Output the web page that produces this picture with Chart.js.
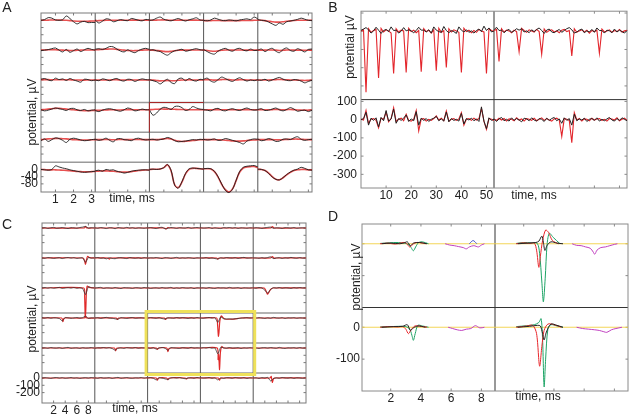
<!DOCTYPE html>
<html>
<head>
<meta charset="utf-8">
<script src="https://cdn.jsdelivr.net/npm/chart.js@4.4.1/dist/chart.umd.min.js"></script>
<style>
  html, body { margin: 0; padding: 0; background: #fff; }
  #fig { position: relative; width: 632px; height: 417px; overflow: hidden; }
  #fig canvas { position: absolute; }
</style>
</head>
<body>
<div id="fig">
  <canvas id="chartA" width="320" height="210" style="left:0;top:0"></canvas>
  <canvas id="chartB" width="312" height="210" style="left:320px;top:0"></canvas>
  <canvas id="chartC" width="320" height="207" style="left:0;top:210px"></canvas>
  <canvas id="chartD" width="312" height="207" style="left:320px;top:210px"></canvas>
</div>
<script>
// ---- panel A: 6 x 5 electrode grid, 3 ms windows ----
const tA = [0.2, 0.4, 0.6, 0.8, 1.0, 1.2, 1.4, 1.6, 1.8, 2.0, 2.2, 2.4, 2.6, 2.8, 3.0, 3.2];
const aXTicks = [1, 2, 3];
const aYTicks = [0, -40, -80];

// aBlack[row][col] recorded traces, uV
const aBlack = [
  [[0,4,15,12,2,0,3,24,10,-8,-20,-10,-6,-13,-12,-12],
   [2,-15,-5,8,5,-8,-3,4,0,-2,10,6,0,-3,5,2],
   [0,2,12,18,6,0,-3,4,10,2,-4,3,8,14,2,0],
   [0,-3,2,12,6,0,-2,2,0,-3,2,5,8,4,18,8],
   [4,0,-2,-10,-20,-28,-15,-22,-8,-4,0,5,12,6,0,-2]],
  [[-3,0,3,8,12,0,-10,4,-12,-3,6,-8,2,10,4,0],
   [5,8,4,10,20,18,6,-5,-10,2,-8,-14,-2,6,10,4],
   [0,2,-4,-8,-20,-28,-14,-4,0,5,-6,-2,4,8,2,0],
   [4,-8,-18,-22,-6,4,10,0,-6,6,10,0,-4,6,-2,0],
   [0,6,-8,4,10,-6,-14,4,12,-2,-6,8,0,-10,4,6]],
  [[4,8,0,-4,10,2,6,-3,8,0,-6,-12,4,2,-4,0],
   [0,-4,6,2,-4,4,8,-2,-6,4,2,-8,0,6,2,0],
   [2,-4,-10,-22,-8,4,-14,-20,6,10,-4,8,-2,-6,4,0],
   [4,10,-6,-12,2,16,8,-2,-8,4,12,2,-6,0,-4,2],
   [0,-2,4,-6,0,8,14,4,-2,-4,2,0,-6,-16,-8,-2]],
  [[0,-6,-2,4,10,6,2,-4,6,8,0,-4,2,-6,-2,0],
   [-4,-10,-2,4,6,2,-4,-8,0,10,4,-6,-2,4,0,0],
   [0,-30,-18,4,14,10,2,18,20,12,-4,2,18,10,4,2],
   [0,-2,-6,4,8,-2,-6,2,6,0,-4,4,10,2,-2,0],
   [2,6,-4,-2,4,10,0,-6,2,12,4,-8,-4,-2,-10,-2]],
  [[-6,4,-10,0,10,6,-4,-16,2,8,4,-2,-6,-4,0,2],
   [2,-4,0,8,-4,-12,4,6,0,-2,-6,4,8,2,-2,0],
   [0,2,-2,0,4,12,6,-6,-12,-10,-8,-4,0,-2,2,0],
   [2,-2,0,4,-4,-2,6,2,-4,-10,-16,-24,-8,0,4,2],
   [4,-6,-2,6,0,-10,-8,2,4,0,10,16,2,-4,0,2]],
  [[0,-2,-4,0,20,14,8,4,-2,-6,-10,-14,-16,-14,-12,-10],
   [-8,-4,-10,0,-4,-2,-10,-14,-20,-16,-10,-6,-4,-2,-2,-4],
   [0,2,0,3,10,28,-5,-88,-104,-68,-22,4,8,6,4,2],
   [4,6,4,-10,-40,-80,-115,-128,-110,-60,-10,12,18,20,22,14],
   [2,0,-6,-22,-42,-55,-58,-45,-28,-14,-4,2,12,6,-2,-4]]
];

// aRed[row][col] fitted templates, uV
const aRed = [
  [[0,0,1,2,2,2,1,0,-2,-4,-5,-5,-5,-5,-4,-4],
   [-2,-2,-1,0,0,0,0,0,0,0,1,1,1,0,0,0],
   [0,0,1,2,2,1,0,0,1,1,0,0,1,1,0,0],
   [-2,-2,-2,-1,-1,-2,-2,-2,-2,-2,-2,-1,-1,-1,0,0],
   [0,0,-2,-5,-8,-10,-10,-8,-5,-3,-1,0,0,0,0,0]],
  [[0,1,2,2,2,1,0,-1,-2,-2,-1,0,1,1,1,0],
   [2,3,4,5,6,6,4,2,0,-2,-3,-3,-2,0,1,2],
   [0,0,-2,-4,-7,-8,-6,-3,-1,0,0,0,1,1,1,0],
   [0,-2,-5,-6,-4,-1,1,1,0,1,1,0,0,0,0,0],
   [0,0,0,1,1,0,-2,-1,1,1,0,0,0,-1,0,0]],
  [[2,2,2,1,1,1,1,1,1,0,0,-1,-1,0,0,0],
   [0,0,0,0,0,1,1,0,0,0,0,0,0,0,0,0],
   [0,-1,-3,-5,-4,-3,-4,-4,-2,0,0,1,0,0,0,0],
   [1,2,1,-1,0,2,3,2,0,0,1,1,0,0,0,0],
   [0,0,0,0,1,2,3,2,1,0,0,-1,-2,-3,-2,-1]],
  [[0,2,4,6,8,8,6,4,2,0,-2,-4,-5,-5,-4,-3],
   [-3,-3,-2,-1,0,0,-1,-1,0,1,1,0,0,0,0,0],
   [0,2,3,4,4,4,4,3,2,2,1,0,0,0,0,0],
   [0,0,0,1,1,0,0,0,1,0,0,1,1,0,0,0],
   [0,1,0,0,1,2,1,0,1,2,1,-1,-2,-2,-2,-1]],
  [[0,2,4,5,6,6,5,4,2,0,-1,-2,-2,-2,-1,0],
   [0,0,0,1,0,-1,0,1,0,0,0,1,1,0,0,0],
   [0,0,0,2,4,6,3,-3,-8,-10,-9,-7,-5,-3,-1,0],
   [0,0,0,0,-1,-2,-3,-5,-7,-8,-8,-7,-5,-3,-2,-1],
   [0,0,0,0,0,-1,-1,0,1,2,3,3,2,1,0,0]],
  [[0,-1,-2,-2,-2,-3,-4,-5,-7,-9,-11,-12,-13,-13,-12,-11],
   [-10,-9,-8,-8,-9,-10,-12,-14,-15,-14,-12,-9,-6,-4,-3,-3],
   [0,1,1,3,10,25,-8,-85,-100,-70,-25,0,6,6,4,2],
   [4,4,2,-12,-42,-82,-112,-125,-108,-62,-14,8,14,16,16,10],
   [0,0,-6,-20,-40,-54,-57,-46,-30,-16,-6,-2,0,0,-2,-2]]
];

// ---- panel B: 2 x 2, 53 ms windows ----
const tB = [0,1,2,3,4,5,6,7,8,9,10,11,12,13,14,15,16,17,18,19,20,21,22,23,24,25,26,
  27,28,29,30,31,32,33,34,35,36,37,38,39,40,41,42,43,44,45,46,47,48,49,50,51,52,53];
const bXTicks = [10, 20, 30, 40, 50];
const bYTicks = [100, 0, -100, -200, -300];

const bBlackUL = [5,12,20,8,-10,2,22,6,-12,4, 10,-2,24,4,6,-10,0,20,2,8,
  2,-8,4,22,6,6,-4,8,-10,24, 6,-2,-6,26,4,-8,4,-2,-12,24, 6,-4,8,-6,2,-10,4,12,-2,28, 4,18,-4,2];
const bRedUL = [0,8,-335,14,-6,4,10,-257,16,-4, 8,2,-10,-232,14,-4,6,2,-226,16,
  -2,6,-8,4,-222,14,-2,6,-10,8, -217,16,-6,4,-199,14,-4,8,2,-6, -226,16,-2,6,-8,4,-6,10,2,-4, -232,14,4,-2];
const bBlackUR = [8,22,4,6,-8,4,10,-6,2,14, 6,14,-4,2,-8,8,-2,10,18,4,
  -12,6,12,-4,-8,2,10,-6,4,14, 20,8,-10,-4,6,12,-8,2,-4,10, -6,18,4,4,-10,6,2,-8,12,-4, 6,-2,-10,4];
const bRedUR = [4,10,-166,14,-4,6,2,-8,6,-2, -112,16,4,-6,8,2,-4,10,-2,-126,
  12,-6,4,8,-4,2,-8,6,10,-2, 4,-135,14,-6,2,8,-4,6,-10,4, -2,6,-121,12,-4,2,8,-6,4,-2, 10,-4,2,6];
const bBlackLL = [0,6,40,-30,8,-4,10,-40,12,-6, 50,-8,4,58,-20,6,-4,8,26,-10,
  4,-6,44,-30,8,-4,6,-10,2,8, 18,-6,4,-8,42,-12,6,-4,2,-8, 34,-24,6,-2,8,-6,4,-10,70,-8, -50,10,-4,2];
const bRedLL = [4,-2,50,-20,2,6,-4,-45,8,2, 40,-12,6,66,-10,2,8,-6,30,-4,
  -8,2,50,-62,4,6,-8,2,-4,6, 20,-2,8,-6,47,-8,2,6,-4,4, 38,-30,2,6,-4,8,-2,6,60,-10, -54,6,2,-4];
const bBlackLR = [6,-10,4,12,-6,2,-8,10,-4,6, -2,-12,8,4,-6,10,-2,-8,6,2,
  -10,8,-4,6,12,-6,4,-20,10,-4, 6,-30,30,-6,4,-2,8,-10,2,6, -4,10,-8,2,-6,4,12,-2,-8,6, -4,10,2,-6];
const bRedLR = [2,-4,8,-2,6,-8,4,2,-6,10, -2,4,-8,6,2,-4,8,-6,2,10,
  -4,6,-2,-8,4,8,-2,-92,6,2, -4,-126,38,-2,6,-8,4,2,-6,8, -2,4,6,-4,2,-8,6,4,-2,10, -6,2,8,-4];

// ---- panel C: 6 x 5 grid, 9 ms windows ----
const tC = [0,0.5,1,1.5,2,2.5,3,3.5,4,4.5,5,5.5,6,6.5,7,7.5,8,8.5,9];
const cXTicks = [2, 4, 6, 8];
const cYTicks = [0, -100, -200];

// cBlack[row][col] recorded traces on tC
const cBlack = [
  [[0,4,-6,2,8,-4,0,6,-2,-8,4,2,-4,6,12,20,-2,4,0],
   [2,-4,6,0,-8,4,2,-10,6,0,-4,8,-2,4,-6,2,0,-4,2],
   [0,6,-2,-8,4,10,-12,-4,6,2,-6,4,0,-2,8,-4,2,6,0],
   [4,-2,0,6,-6,2,-4,-8,4,0,6,-2,4,-6,2,0,-4,2,0],
   [-2,4,0,-6,2,8,12,-4,2,0,-6,4,2,-2,6,-4,0,2,-2]],
  [[0,-4,6,2,-6,0,4,-8,2,6,-2,4,-6,0,2,-60,6,-2,0],
   [2,6,-4,0,-12,4,-6,-10,2,4,-2,-8,6,0,-4,2,-6,4,0],
   [-4,2,0,6,-2,-8,4,2,-6,0,8,-4,2,-2,4,0,-6,2,0],
   [0,-2,4,-6,0,-8,-14,2,-4,6,0,-2,4,-6,2,8,-2,0,4],
   [2,0,-4,4,-2,6,16,-8,0,4,-6,2,-2,8,0,-4,6,-2,0]],
  [[0,6,-2,4,-4,2,8,-6,0,4,-2,6,-4,2,-8,-90,18,4,0],
   [-2,4,8,-6,2,0,-4,6,-2,-8,4,2,0,-6,4,2,-4,6,0],
   [4,-6,0,2,-4,6,-2,0,8,-6,2,-4,6,0,-2,4,-8,2,0],
   [0,2,-4,6,-2,-6,4,0,2,-4,8,-2,0,4,-6,2,0,-2,4],
   [2,-4,6,0,-30,-70,-20,4,-2,6,-4,2,0,-6,4,-2,6,0,2]],
  [[4,-2,6,-4,2,0,-8,-40,6,2,-4,0,6,-2,4,24,-6,2,0],
   [0,4,-6,2,8,-2,-4,-12,-16,4,0,-6,2,6,-4,0,2,-2,4],
   [-2,6,0,-4,4,-8,-14,2,0,-4,6,-2,4,0,-6,2,-4,6,0],
   [0,-4,2,6,-2,4,-60,14,-10,-14,-12,-16,-10,-8,-2,0,4,-2,2],
   [6,-2,4,0,-6,2,-4,8,0,-2,4,-6,2,0,4,-4,2,0,-2]],
  [[0,2,-4,6,0,-2,4,-6,2,8,-4,0,2,-6,4,-2,0,6,-2],
   [-4,2,0,6,-2,4,-8,-30,-4,2,-6,4,0,-2,6,-4,2,0,4],
   [2,-6,4,-16,0,6,-4,-30,4,2,-2,-6,4,0,-4,8,-2,2,0],
   [0,4,-2,6,-4,0,-80,10,2,-4,6,-2,0,4,-6,2,-2,4,0],
   [4,0,-6,2,4,-2,6,0,-4,8,-2,-6,2,0,4,-4,6,-2,0]],
  [[-2,4,0,-6,2,6,-2,4,-4,0,6,-2,2,-6,0,4,-2,6,0],
   [2,-4,6,-2,0,4,-6,2,8,-4,0,6,-2,-4,2,0,6,-2,4],
   [0,6,-4,-26,4,-2,-12,-20,0,4,-2,6,-4,-10,0,2,-4,6,0],
   [4,-2,0,6,-4,2,-26,0,-6,4,2,-4,6,0,-2,4,-6,2,0],
   [0,2,-6,4,0,8,-40,-8,2,-4,6,0,-2,4,-6,2,0,-4,2]]
];

// cRed[row][col] fitted templates as [ms, uV] pairs
const flatC = [[0, 0], [9.1, 0]];
const cRed = [
  [[[0,0],[7.3,0],[7.5,22],[7.7,0],[9.1,0]], flatC,
   [[0,0],[2.9,0],[3.2,-12],[3.5,6],[3.8,0],[9.1,0]], flatC,
   [[0,0],[3.0,0],[3.3,18],[3.6,0],[9.1,0]]],
  [[[0,0],[7.1,0],[7.35,-40],[7.5,-86],[7.65,-30],[7.85,22],[8.2,4],[9.1,0]],
   [[0,0],[2.3,0],[2.5,-16],[2.7,0],[9.1,0]], flatC,
   [[0,0],[2.8,0],[3.0,-16],[3.2,0],[9.1,0]],
   [[0,0],[3.0,0],[3.3,20],[3.6,-6],[3.9,0],[9.1,0]]],
  [[[0,0],[7.2,0],[7.35,-120],[7.45,-405],[7.55,-300],[7.65,-60],[7.8,25],[8.1,8],[9.1,0]],
   flatC, flatC, flatC,
   [[0,0],[1.9,0],[2.2,-40],[2.45,-86],[2.7,-60],[3.0,-20],[3.4,0],[9.1,0]]],
  [[[0,0],[3.4,0],[3.6,-50],[3.75,-10],[3.9,0],[7.3,0],[7.5,28],[7.7,0],[9.1,0]],
   [[0,0],[3.7,0],[3.9,-20],[4.1,0],[9.1,0]],
   [[0,0],[2.9,0],[3.1,-20],[3.3,0],[9.1,0]],
   [[0,0],[2.8,0],[2.95,-80],[3.1,-250],[3.2,-200],[3.35,-40],[3.6,27],[3.9,5],[4.2,-14],[5.5,-16],[6.5,-6],[7.0,0],[9.1,0]],
   flatC],
  [flatC,
   [[0,0],[3.4,0],[3.6,-40],[3.8,0],[9.1,0]],
   [[0,0],[1.5,0],[1.7,-20],[1.9,0],[3.3,0],[3.5,-50],[3.7,-5],[3.9,0],[9.1,0]],
   [[0,0],[2.9,0],[3.05,-160],[3.15,-90],[3.3,-295],[3.45,-60],[3.7,20],[4.0,0],[9.1,0]],
   flatC],
  [flatC, flatC,
   [[0,0],[1.5,0],[1.7,-30],[1.9,0],[3.3,0],[3.5,-25],[3.7,0],[6.5,0],[6.7,-12],[6.9,0],[9.1,0]],
   [[0,0],[3.1,0],[3.3,-30],[3.5,0],[9.1,0]],
   [[0,0],[2.9,0],[3.1,22],[3.3,-60],[3.5,-10],[3.7,0],[9.1,0]]]
];

// ---- panel D: 2 x 2, unit templates overlaid, [ms, uV] pairs; cells UL, UR, LL, LR ----
const dXTicks = [2, 4, 6, 8];
const dYTicks = [0, -100];
const dYellow = [[0.1, 0], [8.9, 0]];
const dBlack = [
  [[1.4,0],[2.0,2],[2.6,0],[2.9,3],[3.1,6],[3.3,-6],[3.5,2],[3.9,4],[4.4,0]],
  [[1.6,0],[2.3,2],[2.8,4],[3.0,8],[3.2,24],[3.3,5],[3.4,-21],[3.55,-5],[3.8,6],[4.2,2],[4.6,0]],
  [[1.4,0],[2.2,2],[2.8,3],[3.1,8],[3.3,-10],[3.5,-2],[3.8,4],[4.3,0]],
  [[1.6,0],[2.4,3],[2.9,6],[3.1,4],[3.25,-20],[3.35,-40],[3.5,-15],[3.8,10],[4.2,6],[4.6,0]]
];
const dRed = [
  [[1.3,0],[1.8,2],[2.3,-1],[2.7,3],[2.95,4],[3.1,-2],[3.25,-10],[3.4,-5],[3.6,3],[3.9,4],[4.3,0]],
  [[1.5,0],[2.0,3],[2.4,1],[2.7,2],[2.85,-20],[3.0,-74],[3.1,-40],[3.25,10],[3.45,43],[3.65,35],[3.9,10],[4.3,0]],
  [[1.3,0],[1.9,2],[2.5,1],[2.8,2],[3.0,-6],[3.17,-20],[3.35,-8],[3.6,4],[4.0,3],[4.4,0]],
  [[1.5,0],[2.2,4],[2.6,6],[2.85,-20],[3.05,-122],[3.2,-60],[3.35,-10],[3.6,10],[4.0,8],[4.5,0]]
];
const dGreen = [
  [[1.3,1],[1.9,3],[2.5,4],[2.9,2],[3.2,-3],[3.35,-12],[3.5,-22],[3.65,-10],[3.85,4],[4.1,6],[4.5,0]],
  [[1.5,1],[2.0,4],[2.5,3],[2.9,1],[3.05,-30],[3.2,-120],[3.3,-182],[3.42,-110],[3.55,0],[3.7,33],[3.95,20],[4.4,0]],
  [[1.3,1],[2.0,2],[2.6,3],[3.0,2],[3.25,-5],[3.4,-25],[3.5,-41],[3.62,-20],[3.8,6],[4.1,4],[4.5,0]],
  [[1.5,2],[2.2,5],[2.7,8],[3.0,15],[3.15,27],[3.25,-40],[3.35,-187],[3.45,-100],[3.6,-5],[3.8,8],[4.2,4],[4.6,0]]
];
const dMagenta = [
  [[5.6,0],[5.9,-4],[6.2,-6],[6.5,-9],[6.8,-12],[7.0,-16],[7.2,-10],[7.5,-6],[7.8,-10],[8.0,-4],[8.2,0]],
  [[5.2,0],[5.5,-5],[5.8,-6],[6.1,-10],[6.4,-14],[6.6,-26],[6.7,-33],[6.85,-20],[7.1,-12],[7.4,-10],[7.7,-6],[8.0,-2],[8.2,0]],
  [[5.8,0],[6.1,-4],[6.4,-8],[6.7,-10],[7.0,-6],[7.3,-4],[7.6,5],[7.9,-2],[8.2,0]],
  [[5.5,0],[5.9,-4],[6.3,-6],[6.7,-8],[7.0,-10],[7.3,-14],[7.5,-16],[7.8,-8],[8.1,-4],[8.5,0]]
];
const dBlue = [[[7.2,0],[7.45,10],[7.7,0]], [], [], []];

Chart.defaults.font.family = '"Liberation Sans", Arial, sans-serif';
Chart.defaults.font.size = 12;
Chart.defaults.color = '#222';

// frame, dividers, inner ticks, highlight boxes and free text, placed from the chart's own scales
const gridFrame = {
  id: 'gridFrame',
  beforeDatasetsDraw(chart, args, o) {
    const { ctx, chartArea: a } = chart;
    const sc = Object.values(chart.scales);
    const xs = sc.filter(s => s.axis === 'x');
    const ys = sc.filter(s => s.axis === 'y');
    ctx.save();
    ctx.lineWidth = o.hWidth || 1;
    ctx.strokeStyle = o.hColor;
    ys.filter(s => s.top > a.top + 2).forEach(s => {
      ctx.beginPath(); ctx.moveTo(a.left, s.top); ctx.lineTo(a.right, s.top); ctx.stroke();
    });
    ctx.lineWidth = o.vWidth || 1;
    ctx.strokeStyle = o.vColor;
    xs.filter(s => s.left > a.left + 2).forEach(s => {
      ctx.beginPath(); ctx.moveTo(s.left, a.top); ctx.lineTo(s.left, a.bottom); ctx.stroke();
    });
    // small inward ticks on the outer frame
    ctx.lineWidth = 1;
    ctx.strokeStyle = o.frameColor;
    ctx.beginPath();
    xs.forEach(s => (o.tickX || []).forEach(v => {
      const px = s.getPixelForValue(v);
      ctx.moveTo(px, a.top); ctx.lineTo(px, a.top + 2.5);
      ctx.moveTo(px, a.bottom); ctx.lineTo(px, a.bottom - 2.5);
    }));
    ys.forEach(s => (o.tickY || []).forEach(v => {
      const py = s.getPixelForValue(v);
      ctx.moveTo(a.left, py); ctx.lineTo(a.left + 2.5, py);
      ctx.moveTo(a.right, py); ctx.lineTo(a.right - 2.5, py);
    }));
    ctx.stroke();
    ctx.strokeRect(a.left, a.top, a.width, a.height);
    ctx.restore();
  },
  afterDatasetsDraw(chart, args, o) {
    const { ctx, scales } = chart;
    ctx.save();
    (o.boxes || []).forEach(b => {
      const x0 = scales['x' + b.c0].left - b.out, x1 = scales['x' + b.c1].right + b.out;
      const y0 = scales['y' + b.r0].top - b.out, y1 = scales['y' + b.r1].bottom + b.out;
      ctx.lineWidth = b.width;
      ctx.strokeStyle = b.color;
      ctx.beginPath();
      if (b.topLeftOnly) {
        ctx.moveTo(x1, y0); ctx.lineTo(x0, y0); ctx.lineTo(x0, y1);
      } else {
        ctx.rect(x0, y0, x1 - x0, y1 - y0);
      }
      ctx.stroke();
    });
    (o.texts || []).forEach(t => {
      ctx.save();
      ctx.font = (t.size || 12) + 'px "Liberation Sans", Arial, sans-serif';
      ctx.fillStyle = '#222';
      ctx.textAlign = 'center';
      ctx.textBaseline = 'middle';
      ctx.translate(t.x, t.y);
      if (t.rot) ctx.rotate(-Math.PI / 2);
      ctx.fillText(t.text, 0, 0);
      ctx.restore();
    });
    ctx.restore();
  }
};

// one x axis per column, one y axis per row, stacked inside one chart area
function gridScales(g) {
  const scales = {};
  for (let c = 0; c < g.cols; c++) {
    const lab = c === 0;
    scales['x' + c] = {
      type: 'linear', position: 'bottom', stack: 'cols', stackWeight: 1,
      min: g.xMin, max: g.xMax,
      grid: { display: false, drawTicks: false }, border: { display: false },
      ticks: { display: lab, padding: g.xPad, autoSkip: false, maxRotation: 0 },
      afterBuildTicks: s => { if (lab) s.ticks = g.xTicks.map(v => ({ value: v })); },
      afterFit: s => { s.height = 14; }
    };
  }
  for (let r = 0; r < g.rows; r++) {
    const lab = r === g.rows - 1;
    scales['y' + r] = {
      type: 'linear', position: 'left', stack: 'rows', stackWeight: 1, weight: g.rows - r,
      min: g.yMin, max: g.yMax,
      grid: { display: false, drawTicks: false }, border: { display: false },
      ticks: { display: lab, padding: g.yPad, autoSkip: false },
      afterBuildTicks: s => { if (lab) s.ticks = g.yTicks.map(v => ({ value: v })); },
      afterFit: s => { s.width = 34; }
    };
  }
  return scales;
}

function onGrid(times, vals) {
  return vals.map((v, i) => ({ x: times[i], y: v }));
}
function fromPairs(p) {
  return p.map(q => ({ x: q[0], y: q[1] }));
}
function trace(data, c, r, color, width, tension) {
  return {
    data, xAxisID: 'x' + c, yAxisID: 'y' + r,
    borderColor: color, borderWidth: width, pointRadius: 0,
    tension: tension, fill: false, clip: false
  };
}

function makeChart(id, g, datasets, frame) {
  frame.tickX = g.xTicks;
  frame.tickY = g.yTicks;
  return new Chart(document.getElementById(id), {
    type: 'line',
    data: { datasets },
    options: {
      responsive: false, animation: false, events: [],
      layout: { padding: g.pad },
      scales: gridScales(g),
      plugins: { legend: { display: false }, tooltip: { enabled: false }, gridFrame: frame }
    },
    plugins: [gridFrame]
  });
}

// ---- build A ----
const dsA = [];
aBlack.forEach((row, r) => row.forEach((v, c) => dsA.push(trace(onGrid(tA, v), c, r, '#1c1c1c', 0.9, 0.3))));
aRed.forEach((row, r) => row.forEach((v, c) => dsA.push(trace(onGrid(tA, v), c, r, 'rgba(226,38,38,0.8)', 1.6, 0.4))));
makeChart('chartA', {
  cols: 5, rows: 6, xMin: 0.2, xMax: 3.2, yMin: -125, yMax: 40.5,
  xTicks: aXTicks, yTicks: aYTicks, xPad: 0, yPad: 3,
  pad: { left: 7, top: 13, right: 8, bottom: 4 }
}, dsA, {
  frameColor: '#7a7a7a', hColor: '#9a9a9a', hWidth: 1.5, vColor: '#555', vWidth: 1,
  boxes: [{ c0: 2, c1: 2, r0: 3, r1: 3, out: 0, width: 1, color: '#a82828', topLeftOnly: true }],
  texts: [
    { text: 'A', x: 7, y: 8, size: 14 },
    { text: 'potential, \u00b5V', x: 33, y: 112, rot: true },
    { text: 'time, ms', x: 132, y: 199 }
  ]
});

// ---- build B ----
const bBlack = [[bBlackUL, bBlackUR], [bBlackLL, bBlackLR]];
const bRed = [[bRedUL, bRedUR], [bRedLL, bRedLR]];
const dsB = [];
bBlack.forEach((row, r) => row.forEach((v, c) => dsB.push(trace(onGrid(tB, v), c, r, '#222', 1, 0))));
bRed.forEach((row, r) => row.forEach((v, c) => dsB.push(trace(onGrid(tB, v), c, r, '#e3262c', 1.1, 0))));
makeChart('chartB', {
  cols: 2, rows: 2, xMin: 0, xMax: 53, yMin: -375, yMax: 110,
  xTicks: bXTicks, yTicks: bYTicks, xPad: 0, yPad: 4,
  pad: { left: 7, top: 10, right: 5, bottom: 8 }
}, dsB, {
  frameColor: '#8a8a8a', hColor: '#333', vColor: '#333',
  texts: [
    { text: 'B', x: 13, y: 8, size: 14 },
    { text: 'potential \u00b5V', x: 31, y: 47, rot: true },
    { text: 'time, ms', x: 214, y: 196 }
  ]
});

// ---- build C ----
const dsC = [];
cBlack.forEach((row, r) => row.forEach((v, c) => dsC.push(trace(onGrid(tC, v), c, r, '#333', 0.8, 0.2))));
cRed.forEach((row, r) => row.forEach((p, c) => dsC.push(trace(fromPairs(p), c, r, '#e02a2a', 1.2, 0.2))));
makeChart('chartC', {
  cols: 5, rows: 6, xMin: 0, xMax: 9.1, yMin: -342, yMax: 68,
  xTicks: cXTicks, yTicks: cYTicks, xPad: 0, yPad: 2,
  pad: { left: 8, top: 13, right: 14, bottom: 0 }
}, dsC, {
  frameColor: '#7a7a7a', hColor: '#9a9a9a', hWidth: 1.5, vColor: '#555', vWidth: 1,
  boxes: [{ c0: 2, c1: 3, r0: 3, r1: 4, out: 1.5, width: 3, color: '#efe15a' }],
  texts: [
    { text: 'C', x: 7, y: 15, size: 14 },
    { text: 'potential, \u00b5V', x: 33, y: 109, rot: true },
    { text: 'time, ms', x: 135, y: 199 }
  ]
});

// ---- build D ----
const dsD = [];
const dCells = [[0, 0], [1, 0], [0, 1], [1, 1]];
dCells.forEach(([c, r], k) => {
  dsD.push(trace(fromPairs(dMagenta[k]), c, r, '#c040c0', 1, 0.3));
  dsD.push(trace(fromPairs(dBlue[k]), c, r, '#4a5ccc', 1, 0.3));
  dsD.push(trace(fromPairs(dBlack[k]), c, r, '#222', 1, 0.3));
  dsD.push(trace(fromPairs(dRed[k]), c, r, '#e8262b', 1, 0.3));
  dsD.push(trace(fromPairs(dGreen[k]), c, r, '#1ea466', 1, 0.3));
  dsD.push(trace(fromPairs(dYellow), c, r, 'rgba(242,210,70,0.9)', 1.2, 0));
});
makeChart('chartD', {
  cols: 2, rows: 2, xMin: 0.1, xMax: 8.9, yMin: -200, yMax: 62,
  xTicks: dXTicks, yTicks: dYTicks, xPad: 0, yPad: 2,
  pad: { left: 8, top: 14, right: 4, bottom: 12 }
}, dsD, {
  frameColor: '#8a8a8a', hColor: '#333', vColor: '#333',
  texts: [
    { text: 'D', x: 13, y: 7, size: 14 },
    { text: 'potential, \u00b5V', x: 37, y: 67, rot: true },
    { text: 'time, ms', x: 218, y: 187 }
  ]
});
</script>
</body>
</html>
